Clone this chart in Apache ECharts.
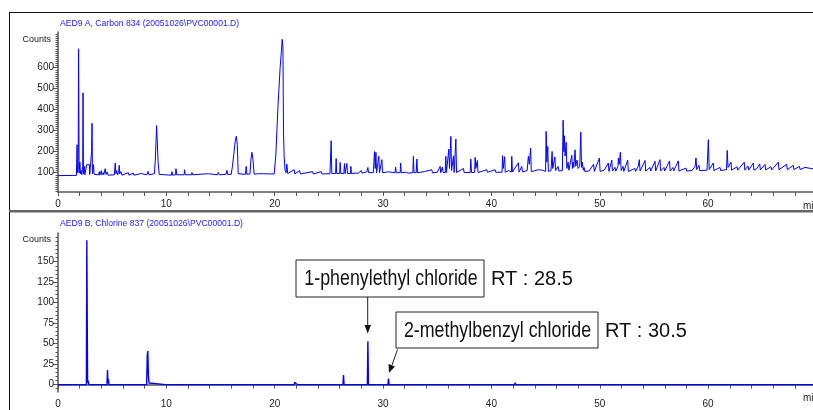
<!DOCTYPE html>
<html>
<head>
<meta charset="utf-8">
<script src="https://cdn.jsdelivr.net/npm/echarts@6/dist/echarts.min.js"></script>
<style>
  html, body { margin: 0; padding: 0; background: #fff; }
  #chart { width: 813px; height: 410px; }
</style>
</head>
<body>
<div id="chart"></div>
<script>
  // AED9 A, carbon 834 trace: [retention time (min), counts]
  var carbonEarly = [
    [0, 86], [1.70, 87], [1.76, 233], [1.80, 100], [1.86, 120], [1.90, 690], [1.95, 98], [2.02, 150], [2.08, 95],
    [2.14, 110], [2.20, 90], [2.28, 130], [2.31, 480], [2.35, 95], [2.43, 130], [2.48, 90], [2.62, 92], [2.65, 138],
    [2.90, 138], [2.93, 92], [3.05, 95], [3.10, 200], [3.14, 335], [3.18, 95], [3.24, 110], [3.28, 138], [3.33, 92],
    [3.44, 100], [3.50, 88], [3.75, 90], [3.81, 105], [3.86, 88], [4.00, 110], [4.05, 90], [4.18, 100], [4.22, 90],
    [4.36, 119], [4.42, 92], [4.55, 104], [4.62, 88], [5.20, 90], [5.28, 146], [5.34, 95], [5.42, 110], [5.50, 90],
    [5.60, 100], [5.65, 135], [5.70, 95], [5.80, 105], [5.90, 88], [6.49, 100], [6.55, 88], [6.95, 98], [7.00, 88],
    [7.68, 96], [7.74, 88], [8.20, 90], [8.30, 106], [8.40, 90], [8.90, 95], [8.98, 160], [9.04, 240], [9.10, 324],
    [9.16, 322], [9.24, 150], [9.34, 92], [10.45, 88], [10.52, 105], [10.58, 88], [10.85, 90], [10.89, 119], [10.95, 90],
    [11.64, 90], [11.68, 114], [11.74, 90], [12.33, 90], [12.36, 101], [12.42, 90], [13.87, 95], [13.92, 90],
    [14.70, 90], [14.79, 101], [14.88, 90], [15.50, 92], [15.59, 111], [15.66, 92], [15.98, 92], [16.10, 130],
    [16.22, 185], [16.36, 250], [16.45, 273], [16.55, 235], [16.63, 95], [17.30, 92], [17.37, 130], [17.43, 92],
    [17.72, 94], [17.80, 160], [17.90, 197], [18.00, 160], [18.10, 93], [18.50, 95], [18.60, 92], [19.00, 95],
    [19.10, 92], [19.50, 94], [19.95, 94], [20.10, 180], [20.30, 415], [20.50, 600], [20.62, 680], [20.69, 735],
    [20.76, 700], [20.81, 300], [20.87, 178], [20.96, 110], [21.05, 100], [21.12, 141], [21.20, 96], [21.80, 114],
    [21.86, 94]
  ];
  var carbonMid = [
    [22.30, 110], [22.36, 94], [23.50, 105], [23.56, 94], [24.30, 105], [24.36, 94], [25.10, 95], [25.21, 252],
    [25.27, 96], [25.62, 96], [25.67, 167], [25.72, 96], [26.00, 96], [26.04, 149], [26.10, 96], [26.38, 96],
    [26.44, 144], [26.50, 96], [26.60, 96], [26.66, 144], [26.72, 96], [27.00, 96], [27.03, 130], [27.08, 96],
    [27.50, 98], [27.60, 105], [27.70, 97], [28.00, 110], [28.06, 98], [28.50, 104], [28.60, 125], [28.66, 100],
    [29.10, 100], [29.21, 201], [29.28, 120], [29.34, 197], [29.40, 100], [29.55, 100], [29.61, 178], [29.67, 100],
    [29.84, 100], [29.89, 162], [29.95, 100], [30.50, 104], [30.60, 98], [31.10, 100], [31.16, 126], [31.22, 100],
    [31.58, 100], [31.62, 146], [31.68, 100], [32.10, 102], [32.30, 98], [32.75, 100], [32.80, 178], [32.86, 100],
    [33.06, 100], [33.12, 165], [33.18, 100], [33.80, 105], [33.90, 98], [34.50, 114], [34.56, 99], [35.00, 102],
    [35.27, 130], [35.32, 100], [35.48, 127], [35.54, 101], [35.74, 101], [35.79, 178], [35.85, 101], [36.00, 101],
    [36.07, 212], [36.13, 120], [36.26, 273], [36.32, 110], [36.50, 180], [36.56, 101], [36.66, 101], [36.72, 260],
    [36.78, 101], [37.42, 120], [37.48, 101], [38.04, 101], [38.10, 165], [38.16, 101], [38.45, 101], [38.50, 173],
    [38.56, 120], [38.70, 158], [38.76, 101], [39.20, 108], [39.30, 101], [39.58, 114], [39.64, 102], [40.34, 114],
    [40.40, 102], [40.98, 102], [41.03, 181], [41.10, 120], [41.22, 176], [41.28, 102], [41.60, 110], [41.70, 103],
    [41.84, 103], [41.88, 178], [41.94, 103], [42.49, 147], [42.55, 103], [42.80, 130], [42.86, 104], [43.30, 110],
    [43.41, 178], [43.50, 140], [43.62, 217], [43.68, 105], [44.34, 114], [44.40, 105], [44.70, 112], [44.80, 105]
  ];
  var carbonLate = [
    [45.00, 106], [45.05, 297], [45.12, 150], [45.20, 225], [45.26, 106], [45.50, 110], [45.60, 201], [45.66, 120],
    [45.86, 175], [45.92, 110], [46.15, 130], [46.22, 108], [46.55, 110], [46.62, 350], [46.68, 200], [46.73, 276],
    [46.80, 180], [46.90, 245], [46.96, 120], [47.08, 150], [47.15, 112], [47.42, 183], [47.48, 120], [47.54, 150],
    [47.60, 125], [47.72, 209], [47.78, 130], [47.90, 160], [48.00, 120], [48.15, 130], [48.25, 293], [48.32, 125],
    [48.40, 150], [48.48, 112], [48.55, 125], [48.62, 106], [49.00, 108], [49.10, 104], [49.43, 140], [49.50, 106],
    [49.97, 170], [50.03, 106], [50.40, 112], [50.50, 106], [50.79, 146], [50.85, 106], [51.11, 160], [51.17, 108],
    [51.41, 125], [51.47, 107], [51.68, 130], [51.72, 170], [51.80, 140], [51.90, 197], [51.98, 110], [52.15, 130],
    [52.22, 106], [52.58, 160], [52.64, 106], [53.25, 120], [53.30, 106], [53.55, 130], [53.65, 162], [53.72, 108],
    [54.18, 158], [54.24, 108], [54.64, 125], [54.70, 108], [55.10, 154], [55.16, 108], [55.56, 162], [55.62, 108],
    [55.93, 125], [55.99, 108], [56.44, 156], [56.50, 108], [56.76, 125], [56.82, 108], [57.25, 156], [57.31, 108],
    [57.96, 122], [58.02, 108], [58.50, 110], [58.80, 130], [58.88, 170], [58.95, 115], [59.16, 135], [59.22, 110],
    [59.90, 112], [60.02, 257], [60.10, 115], [60.48, 146], [60.54, 110], [61.10, 125], [61.16, 110], [61.70, 115],
    [61.76, 206], [61.84, 125], [62.11, 150], [62.17, 112], [62.67, 128], [62.73, 112], [63.33, 150], [63.39, 112],
    [63.68, 132], [63.74, 112], [64.17, 146], [64.23, 112], [64.50, 120], [64.56, 112], [64.76, 142], [64.82, 113],
    [65.25, 139], [65.31, 113], [65.80, 128], [65.86, 113], [66.48, 150], [66.54, 114], [67.25, 140], [67.31, 114],
    [67.86, 135], [67.92, 115], [68.43, 130], [68.49, 115], [68.94, 125], [69.00, 116], [69.70, 118]
  ];

  // AED9 B, chlorine 837 trace
  var chlorineTrace = [
    [0, 0], [2.62, 0], [2.66, 176], [2.70, 176], [2.73, 2], [2.76, 5], [2.82, 5], [2.86, 0], [4.52, 0], [4.57, 17.7],
    [4.61, 2], [4.65, 7], [4.70, 0], [8.18, 0], [8.24, 36], [8.29, 41], [8.34, 12], [8.40, 2], [8.50, 0],
    [9.92, 0], [9.96, 1.5], [10.02, 0], [12.38, 0], [12.42, 1.5], [12.47, 0], [17.45, 0], [17.49, 2], [17.54, 0],
    [21.80, 0], [21.85, 3], [21.90, 1], [22.02, 2], [22.08, 0], [23.90, 0], [23.95, 1.5], [24.00, 0],
    [24.45, 0], [24.50, 1], [24.55, 0], [26.30, 0], [26.35, 11.6], [26.40, 0], [28.14, 0], [28.19, 2], [28.24, 0],
    [28.55, 0], [28.60, 53], [28.65, 0], [30.45, 0], [30.50, 7.5], [30.55, 0], [36.75, 0], [36.80, 1.5], [36.85, 0],
    [42.14, 0], [42.19, 2.5], [42.24, 0], [45.35, 0], [45.40, 1], [45.45, 0], [47.37, 0], [47.42, 1], [47.47, 0],
    [48.90, 0], [48.95, 1.5], [49.00, 0], [50.13, 0], [50.18, 1], [50.23, 0], [69.70, 0]
  ];

  var carbonTicks = [100, 200, 300, 400, 500, 600];
  var chlorineTicks = [0, 25, 50, 75, 100, 125, 150];
  var panelTitles = ['AED9 A, Carbon 834 (20051026\\PVC00001.D)', 'AED9 B, Chlorine 837 (20051026\\PVC00001.D)'];
  var peakNames = ['1-phenylethyl chloride', '2-methylbenzyl chloride'];
  var peakRT = ['RT : 28.5', 'RT : 30.5'];

  var carbonTrace = carbonEarly.concat(carbonMid, carbonLate);

  function steps(from, to, step) {
    var out = [];
    for (var v = from; v <= to + 1e-9; v += step) out.push(+v.toFixed(3));
    return out;
  }

  var axisColor = '#555';
  var labelFont = 'Liberation Sans, Arial, sans-serif';
  var blue = '#0000ff';

  function xAxisFor(gridIndex) {
    return {
      type: 'value', gridIndex: gridIndex, min: 0, max: 69.68, interval: 10,
      name: 'min', nameLocation: 'end', nameGap: -10,
      nameTextStyle: { color: '#222', fontSize: 10, fontFamily: labelFont, verticalAlign: 'top', padding: [9, 0, 0, 0] },
      axisLine: { lineStyle: { color: axisColor, width: 1.5 } },
      axisTick: { length: 4, lineStyle: { color: axisColor } },
      minorTick: { show: true, splitNumber: 5, length: 4, lineStyle: { color: axisColor } },
      axisLabel: { color: '#222', fontSize: 10, fontFamily: labelFont, margin: 7, showMaxLabel: false },
      splitLine: { show: false }
    };
  }

  function yAxesFor(gridIndex, min, max, ticks, minor) {
    return [{
      type: 'value', gridIndex: gridIndex, min: min, max: max, position: 'left',
      axisLine: { show: true, lineStyle: { color: axisColor, width: 1.5 } },
      axisTick: { show: true, length: 5, customValues: ticks, lineStyle: { color: axisColor } },
      axisLabel: { color: '#222', fontSize: 10, fontFamily: labelFont, margin: 4, customValues: ticks },
      splitLine: { show: false }
    }, {
      type: 'value', gridIndex: gridIndex, min: min, max: max, position: 'left', offset: 0,
      axisLine: { show: false },
      axisTick: { show: true, length: 2.5, customValues: minor, lineStyle: { color: axisColor } },
      axisLabel: { show: false },
      splitLine: { show: false }
    }];
  }

  var annFont = 'Liberation Sans, Arial, sans-serif';

  var chart = echarts.init(document.getElementById('chart'));
  var option = {
    animation: false,
    backgroundColor: '#fff',
    title: [
      { text: panelTitles[0], left: 55, top: 14, textStyle: { color: '#2222ff', fontSize: 8.6, fontWeight: 'normal', fontFamily: labelFont } },
      { text: panelTitles[1], left: 55, top: 214, textStyle: { color: '#2222ff', fontSize: 8.6, fontWeight: 'normal', fontFamily: labelFont } }
    ],
    grid: [
      { left: 58, right: 0, top: 32, height: 160, outerBoundsMode: 'none' },
      { left: 58, right: 0, top: 233, height: 159, outerBoundsMode: 'none' }
    ],
    xAxis: [xAxisFor(0), xAxisFor(1)],
    yAxis: yAxesFor(0, 8, 770, carbonTicks, steps(10, 760, 10))
      .concat(yAxesFor(1, -9, 185, chlorineTicks, steps(-5, 180, 5))),
    series: [
      {
        type: 'line', xAxisIndex: 0, yAxisIndex: 0, data: carbonTrace, showSymbol: false,
        lineStyle: { color: blue, width: 1 }
      },
      {
        type: 'line', xAxisIndex: 1, yAxisIndex: 2, data: chlorineTrace, showSymbol: false,
        lineStyle: { color: blue, width: 1.4 }
      }
    ],
    graphic: [
      // frame
      { type: 'line', shape: { x1: 9, y1: 12.5, x2: 813, y2: 12.5 }, style: { stroke: '#111', lineWidth: 1 } },
      { type: 'line', shape: { x1: 9.5, y1: 12, x2: 9.5, y2: 410 }, style: { stroke: '#111', lineWidth: 1 } },
      { type: 'rect', shape: { x: 9, y: 210, width: 804, height: 2.5 }, style: { fill: '#666' } },
      // axis captions
      { type: 'text', x: 51, y: 40, style: { text: 'Counts', fontSize: 9, fontFamily: labelFont, fill: '#222', align: 'right', verticalAlign: 'middle' } },
      { type: 'text', x: 51, y: 240, style: { text: 'Counts', fontSize: 9, fontFamily: labelFont, fill: '#222', align: 'right', verticalAlign: 'middle' } },
      // annotation 1
      { type: 'rect', shape: { x: 296, y: 260, width: 188, height: 37 }, style: { fill: '#fff', stroke: '#222', lineWidth: 1 } },
      { type: 'text', x: 391, y: 279, scaleX: 0.81, style: { text: peakNames[0], fontSize: 22, fontFamily: annFont, fill: '#111', align: 'center', verticalAlign: 'middle' } },
      { type: 'text', x: 491, y: 279, style: { text: peakRT[0], fontSize: 20, fontFamily: annFont, fill: '#111', align: 'left', verticalAlign: 'middle' } },
      { type: 'line', shape: { x1: 367.7, y1: 297, x2: 367.7, y2: 326 }, style: { stroke: '#222', lineWidth: 1 } },
      { type: 'polygon', shape: { points: [[364.5, 325], [371, 325], [367.7, 333.5]] }, style: { fill: '#111' } },
      // annotation 2
      { type: 'rect', shape: { x: 396, y: 312, width: 202, height: 36 }, style: { fill: '#fff', stroke: '#222', lineWidth: 1 } },
      { type: 'text', x: 497.5, y: 331, scaleX: 0.81, style: { text: peakNames[1], fontSize: 22, fontFamily: annFont, fill: '#111', align: 'center', verticalAlign: 'middle' } },
      { type: 'text', x: 605, y: 331, style: { text: peakRT[1], fontSize: 20, fontFamily: annFont, fill: '#111', align: 'left', verticalAlign: 'middle' } },
      { type: 'line', shape: { x1: 397.5, y1: 349.5, x2: 392, y2: 365 }, style: { stroke: '#222', lineWidth: 1 } },
      { type: 'polygon', shape: { points: [[395, 366.4], [388.5, 364], [389, 372.7]] }, style: { fill: '#111' } }
    ]
  };
  chart.setOption(option);
</script>
</body>
</html>
